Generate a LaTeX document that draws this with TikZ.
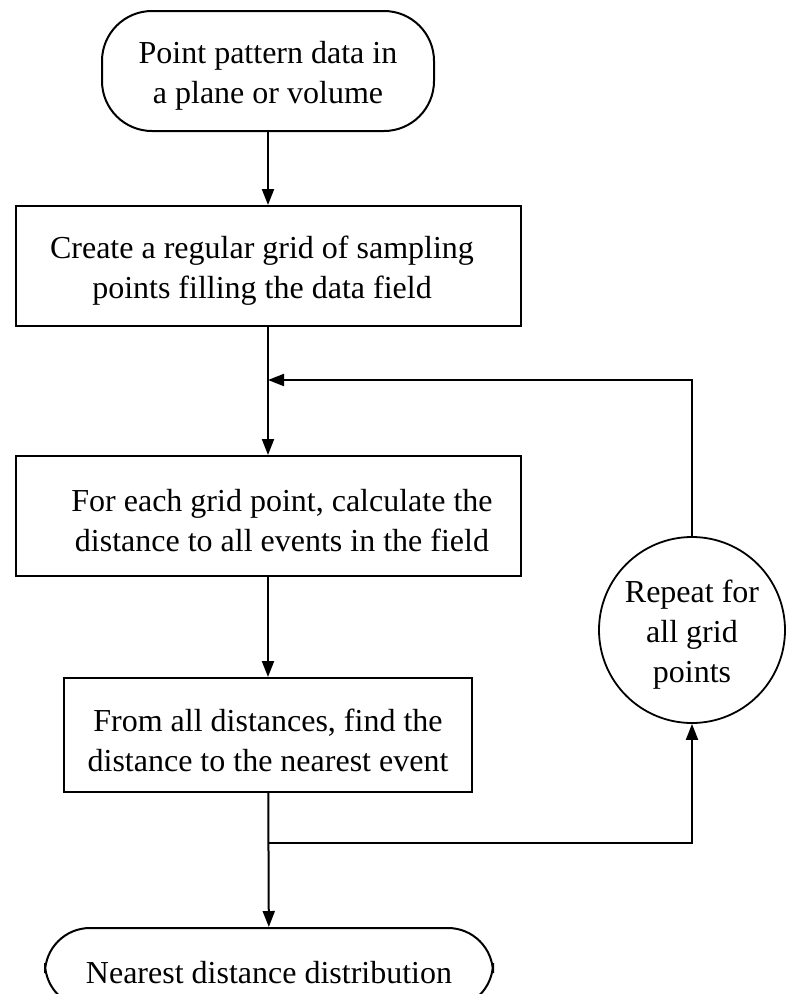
\documentclass[tikz,border=0pt]{standalone}
\usepackage{fontspec}
\setmainfont{Liberation Serif}
\usetikzlibrary{arrows.meta}
\begin{document}
\begin{tikzpicture}[x=1pt,y=-1pt,
  every node/.style={font=\fontsize{32}{40}\selectfont, align=center},
  terminal/.style={draw, line width=2pt, rounded corners=50pt, inner sep=0pt},
  stepbox/.style={draw, line width=2pt, rectangle, inner sep=0pt},
  loopnode/.style={draw, line width=1.8pt, circle, inner sep=0pt, minimum size=186pt},
  label/.style={inner sep=0pt, yshift=-5pt},
  flow/.style={line width=2pt, -{Triangle[width=12pt,length=16pt]}}]
\useasboundingbox (0,0) rectangle (787,994);

% process nodes
\node[terminal, minimum width=332pt, minimum height=120pt] (start) at (268,71) {};
\node[label] (starttext) at (start.center) {Point pattern data in\\a plane or volume};
\node[stepbox, minimum width=505pt, minimum height=120pt] (grid) at (268,266) {};
\node[label] (gridtext) at ([xshift=-6pt]grid.center)
  {Create a regular grid of sampling\\points filling the data field};
\node[stepbox, minimum width=505pt, minimum height=120pt] (calc) at (268,516) {};
\node[label] (calctext) at ([xshift=14pt]calc.center)
  {For each grid point, calculate the\\distance to all events in the field};
\node[stepbox, minimum width=408pt, minimum height=114pt] (near) at (268,735) {};
\node[label] (neartext) at (near.center)
  {From all distances, find the\\distance to the nearest event};
\node[loopnode] (rep) at (692,630) {};
\node[label] (reptext) at (rep.center) {Repeat for\\all grid\\points};
\node[terminal, rounded corners=45pt, minimum width=448pt, minimum height=80pt] (final) at (269,968) {};
\node[label] (finaltext) at (final.center) {Nearest distance distribution};

% junctions of the loop
\coordinate (j1) at (268,380);
\coordinate (j2) at (268,843);

% connectors
\draw[flow] (start) -- (grid);
\draw[flow] (grid) -- (calc);
\draw[flow] (rep.north) |- (j1);
\draw[flow] (calc) -- (near);
\draw[flow] (near) -- (final);
\draw[flow] (j2) -| (rep.south);
\end{tikzpicture}
\end{document}
